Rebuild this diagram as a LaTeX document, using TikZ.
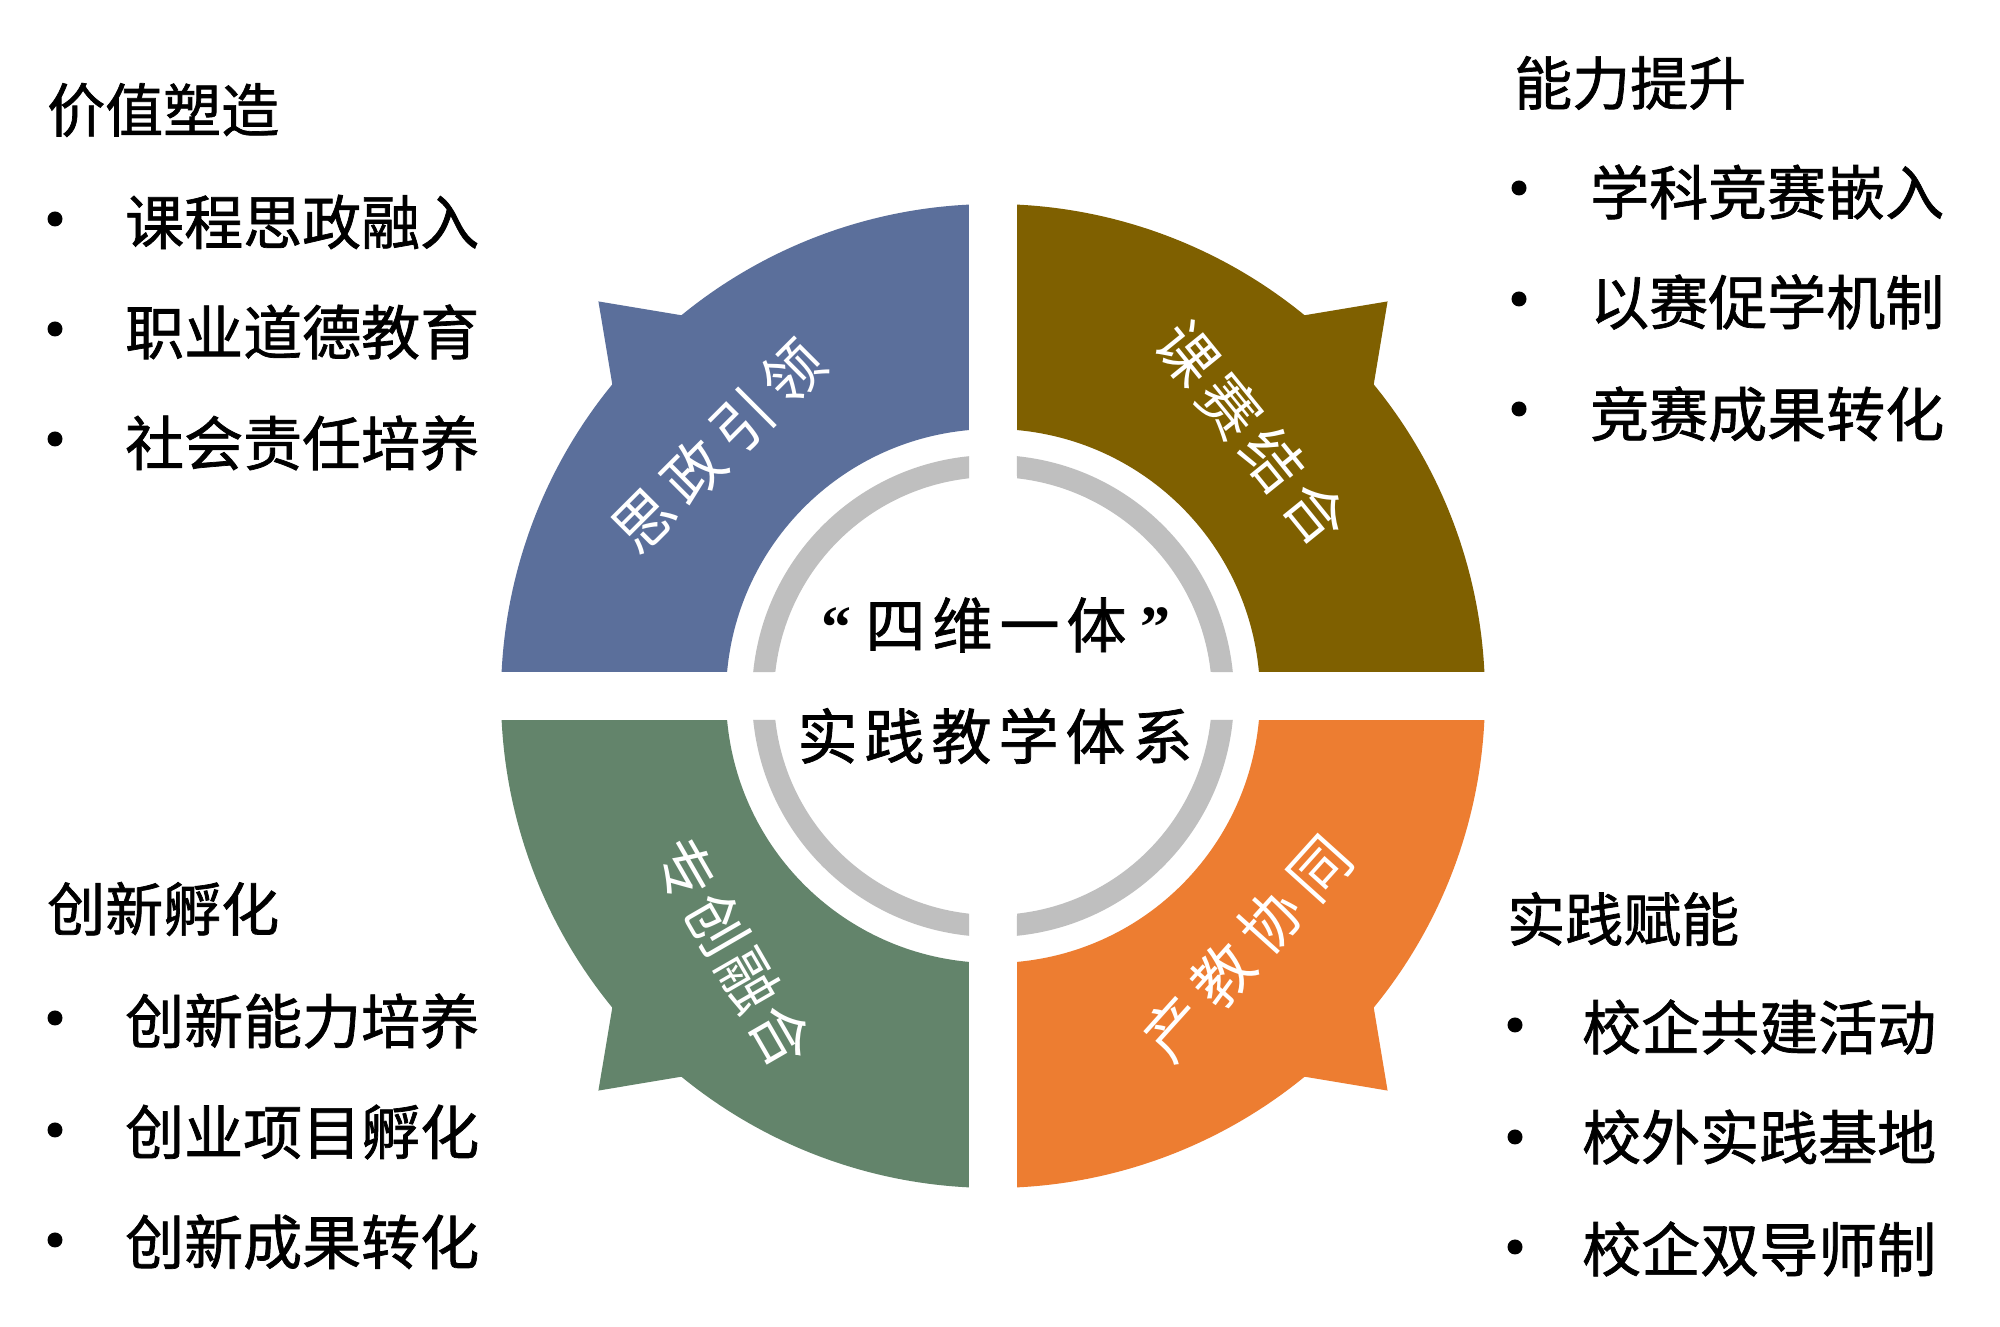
\documentclass[tikz,border=0pt]{standalone}
\usepackage{fontspec}
\setmainfont{Liberation Serif}
\newfontfamily\cjk{Noto Sans CJK SC}
\newfontfamily\cjkb[FakeBold=1.2]{Noto Sans CJK SC}
\newfontfamily\qfont{Liberation Serif}
\definecolor{qblue}{RGB}{91,111,155}
\definecolor{qbrown}{RGB}{127,96,0}
\definecolor{qgreen}{RGB}{99,132,107}
\definecolor{qorange}{RGB}{237,125,49}
\definecolor{qgray}{RGB}{191,191,191}
\tikzset{
  quadshape/.pic={
    \fill[pic actions] (92.8:492pt) arc[start angle=92.8,end angle=129.3,radius=492pt]
      -- (135:558pt) -- (140.7:492pt)
      arc[start angle=140.7,end angle=177.2,radius=492pt]
      -- (174.84:267pt) arc[start angle=174.84,end angle=95.16,radius=267pt] -- cycle;
  },
  ringpiece/.pic={
    \fill[pic actions] (95.71:241pt) arc[start angle=95.71,end angle=174.29,radius=241pt]
      -- (173.71:219pt) arc[start angle=173.71,end angle=96.29,radius=219pt] -- cycle;
  },
  listhead/.style={anchor=west, inner sep=0pt, font=\cjkb\fontsize{58pt}{62pt}\selectfont},
  listitem/.style={anchor=west, inner sep=0pt, font=\cjkb\fontsize{59pt}{63pt}\selectfont},
  bulletdot/.style={circle, fill=black, minimum size=15pt, inner sep=0pt},
  seglabel/.style={text=white, inner sep=0pt, font=\cjk\fontsize{60pt}{64pt}\selectfont},
  centertext/.style={inner sep=0pt, font=\cjkb\fontsize{60pt}{64pt}\selectfont},
}
\begin{document}
\begin{tikzpicture}[x=1pt,y=1pt]
\fill[white] (0,0) rectangle (2000,1327);
\useasboundingbox (0,0) rectangle (2000,1327);
\coordinate (C) at (993,631);
% quadrants
\pic[fill=qblue] at (C) {quadshape};
\pic[fill=qbrown, rotate=-90] at (C) {quadshape};
\pic[fill=qorange, rotate=180] at (C) {quadshape};
\pic[fill=qgreen, rotate=90] at (C) {quadshape};
% gray inner ring
\pic[fill=qgray] at (C) {ringpiece};
\pic[fill=qgray, rotate=-90] at (C) {ringpiece};
\pic[fill=qgray, rotate=180] at (C) {ringpiece};
\pic[fill=qgray, rotate=90] at (C) {ringpiece};
% segment labels
\node[seglabel, rotate=45] (lab1) at (718,881) {思\hspace{10pt}政\hspace{10pt}引\hspace{10pt}领};
\node[seglabel, rotate=-51] (lab2) at (1252,894) {课\hspace{8pt}赛\hspace{8pt}结\hspace{8pt}合};
\node[seglabel, rotate=-60] (lab3) at (733,375) {专\hspace{4pt}创\hspace{4pt}融\hspace{4pt}合};
\node[seglabel, rotate=48] (lab4) at (1247,379) {产\hspace{12pt}教\hspace{12pt}协\hspace{12pt}同};
% center text
\node[centertext] (t1) at (996,702) {{\qfont\bfseries “}\hspace{14pt}四\hspace{7pt}维\hspace{7pt}一\hspace{7pt}体\hspace{14pt}{\qfont\bfseries ”}};
\node[centertext] (t2) at (995,591) {实\hspace{7pt}践\hspace{7pt}教\hspace{7pt}学\hspace{7pt}体\hspace{7pt}系};
% top-left list
\node[listhead] (h1) at (47,1217) {价值塑造};
\node[bulletdot] (b11) at (55,1108) {};
\node[bulletdot] (b12) at (55,998) {};
\node[bulletdot] (b13) at (55,888) {};
\node[listitem] (i11) at (125,1105) {课程思政融入};
\node[listitem] (i12) at (125,995) {职业道德教育};
\node[listitem] (i13) at (125,884) {社会责任培养};
% top-right list
\node[listhead] (h2) at (1514,1244) {能力提升};
\node[bulletdot] (b21) at (1519,1139) {};
\node[bulletdot] (b22) at (1519,1028) {};
\node[bulletdot] (b23) at (1519,918) {};
\node[listitem] (i21) at (1590,1135) {学科竞赛嵌入};
\node[listitem] (i22) at (1590,1025) {以赛促学机制};
\node[listitem] (i23) at (1590,913) {竞赛成果转化};
% bottom-left list
\node[listhead] (h3) at (47,418) {创新孵化};
\node[bulletdot] (b31) at (55,309) {};
\node[bulletdot] (b32) at (55,197) {};
\node[bulletdot] (b33) at (55,87) {};
\node[listitem] (i31) at (125,306) {创新能力培养};
\node[listitem] (i32) at (125,195) {创业项目孵化};
\node[listitem] (i33) at (125,85) {创新成果转化};
% bottom-right list
\node[listhead] (h4) at (1507,408) {实践赋能};
\node[bulletdot] (b41) at (1515,302) {};
\node[bulletdot] (b42) at (1515,190) {};
\node[bulletdot] (b43) at (1515,80) {};
\node[listitem] (i41) at (1582,300) {校企共建活动};
\node[listitem] (i42) at (1582,190) {校外实践基地};
\node[listitem] (i43) at (1582,78) {校企双导师制};
\end{tikzpicture}
\end{document}
